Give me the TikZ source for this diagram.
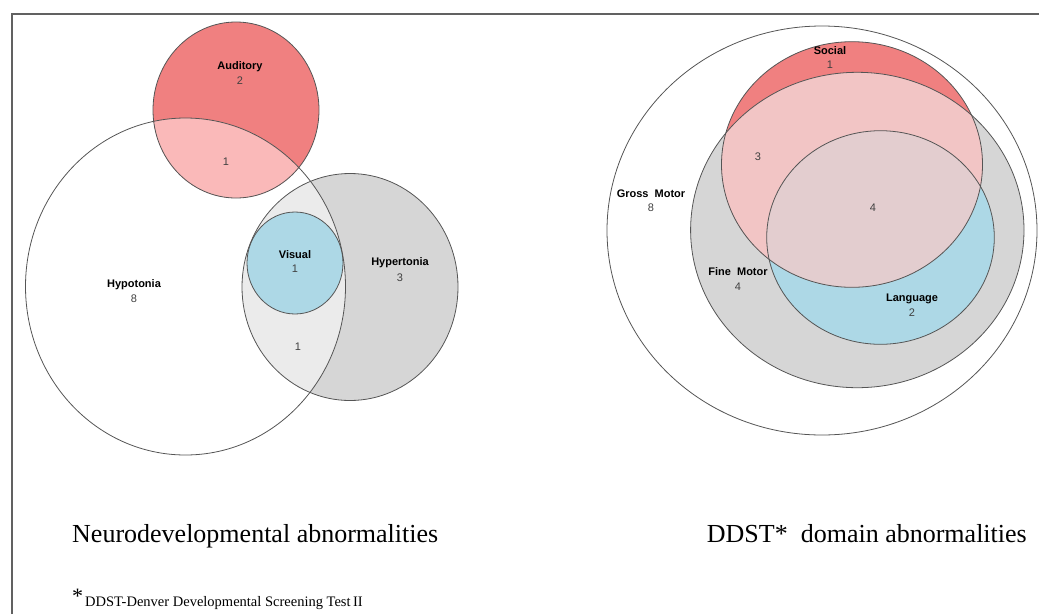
\documentclass[tikz,border=0pt]{standalone}
\usepackage{fontspec}
\setmainfont{Liberation Serif}
\setsansfont{Liberation Sans}
\usetikzlibrary{calc}
\definecolor{audred}{HTML}{F08080}
\definecolor{audpink}{HTML}{FAB9B9}
\definecolor{hypgray}{HTML}{D6D6D6}
\definecolor{hyplight}{HTML}{EBEBEB}
\definecolor{visblue}{HTML}{ADD8E6}
\definecolor{socpink}{HTML}{F2C5C5}
\definecolor{socmix}{HTML}{E3CDCF}
\definecolor{edgegray}{HTML}{555555}
\tikzset{
  setline/.style={line width=0.8pt, color=edgegray},
  setname/.style={font=\sffamily\bfseries\fontsize{11}{11}\selectfont, inner sep=0},
  setnum/.style={font=\sffamily\fontsize{11}{11}\selectfont, text=black!75, inner sep=0},
  caption/.style={font=\fontsize{26}{26}\selectfont, inner sep=0}
}

\begin{document}
\begin{tikzpicture}[x=1pt,y=-1pt]
			%%%%% START %%%%%
			\useasboundingbox (0,0) rectangle (1039,614);
			
			\draw[line width=2pt, color=black!62] (12,614) -- (12,14) -- (1039,14);
			
			%%%%% neurodevelopmental %%%%%
			\fill[hypgray] (350,287) ellipse [x radius=108, y radius=113.5];
			\fill[audred] (236,110) ellipse [x radius=83, y radius=88];
			\begin{scope}
				\clip (185.5,286.5) ellipse [x radius=160, y radius=168.5];
				\fill[audpink] (236,110) ellipse [x radius=83, y radius=88];
				\fill[hyplight] (350,287) ellipse [x radius=108, y radius=113.5];
			\end{scope}
			\fill[visblue] (295,263) ellipse [x radius=48, y radius=51];
			
			\draw[setline] (185.5,286.5) ellipse [x radius=160, y radius=168.5];
			\draw[setline] (236,110) ellipse [x radius=83, y radius=88];
			\draw[setline] (350,287) ellipse [x radius=108, y radius=113.5];
			\draw[setline] (295,263) ellipse [x radius=48, y radius=51];
			
			\node[setname] (aud) at (240,67) {Auditory};
			\node[setnum] (audn) at (240,81) {2};
			\node[setnum] (audhypo) at (226,162) {1};
			\node[setname] (vis) at (295,255) {Visual};
			\node[setnum] (visn) at (295,269) {1};
			\node[setname] (hyper) at (400,263) {Hypertonia};
			\node[setnum] (hypern) at (400,278) {3};
			\node[setname] (hypo) at (134,285) {Hypotonia};
			\node[setnum] (hypon) at (134,299) {8};
			\node[setnum] (hypohyper) at (298,347) {1};
			
			%%%%% DDST domains %%%%%
			\fill[hypgray] (857.3,230) ellipse [x radius=166.7, y radius=157.7];
			\fill[audred] (852,164.5) ellipse [x radius=130.5, y radius=122.8];
			\fill[visblue] (880.5,237.5) ellipse [x radius=113.8, y radius=106.8];
			\begin{scope}
				\clip (852,164.5) ellipse [x radius=130.5, y radius=122.8];
				\fill[socpink] (857.3,230) ellipse [x radius=166.7, y radius=157.7];
				\fill[socmix] (880.5,237.5) ellipse [x radius=113.8, y radius=106.8];
			\end{scope}
			
			\draw[setline] (822,230.5) ellipse [x radius=215, y radius=204.5];
			\draw[setline] (857.3,230) ellipse [x radius=166.7, y radius=157.7];
			\draw[setline] (852,164.5) ellipse [x radius=130.5, y radius=122.8];
			\draw[setline] (880.5,237.5) ellipse [x radius=113.8, y radius=106.8];
			
			\node[setname] (soc) at (830,51) {Social};
			\node[setnum] (socn) at (830,65) {1};
			\node[setnum] (socfine) at (758,157) {3};
			\node[setnum] (soclang) at (873,208) {4};
			\node[setname] (gross) at (651,194) {Gross~~Motor};
			\node[setnum] (grossn) at (651,208) {8};
			\node[setname] (fine) at (738,272) {Fine~~Motor};
			\node[setnum] (finen) at (738,287) {4};
			\node[setname] (lang) at (912,299) {Language};
			\node[setnum] (langn) at (912,313) {2};
			
			%%%%% captions %%%%%
			\node[caption, anchor=base west] (capleft) at (72,542) {Neurodevelopmental abnormalities};
			\node[caption, anchor=base east] (capright) at (1027,542) {DDST*\ \ domain abnormalities};
			
			\node[font=\fontsize{22}{22}\selectfont, inner sep=0, anchor=base west] (fnstar) at (72,603) {*};
			\node[font=\fontsize{14.5}{14.5}\selectfont, inner sep=0, anchor=base west] (fntext) at (85,606) {DDST-Denver Developmental Screening Test\,II};
			
			%%%%% END %%%%%
\end{tikzpicture}
\end{document}
